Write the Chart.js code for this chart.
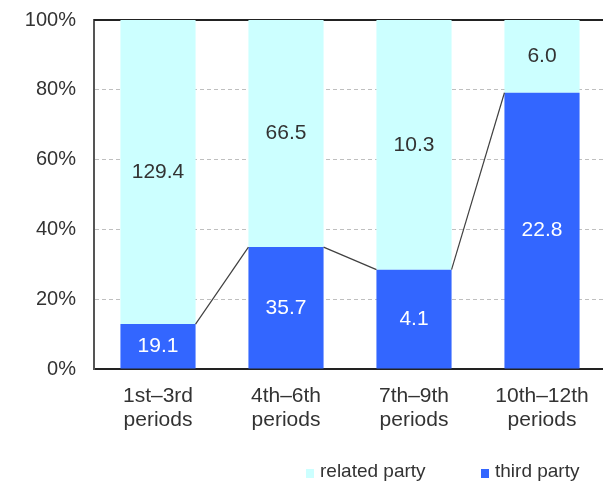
<!DOCTYPE html>
<html>
<head>
<meta charset="utf-8">
<script src="https://cdn.jsdelivr.net/npm/chart.js@4/dist/chart.umd.min.js"></script>
<style>
  html, body { margin: 0; padding: 0; overflow: hidden; background: #fff; width: 603px; height: 483px; }
  #wrap { position: relative; width: 603px; height: 483px; }
  canvas { position: absolute; left: 0; top: 0; }
  .lg { position: absolute; font-family: "Liberation Sans", Arial, sans-serif; font-size: 19px; line-height: 19px; color: #333; white-space: nowrap; }
  .sw { position: absolute; width: 8px; height: 9px; }
</style>
</head>
<body>
<div id="wrap">
  <canvas id="c" width="606" height="483"></canvas>
  <div class="sw" style="left:306px;top:469px;background:#CCFFFF"></div>
  <div class="lg" style="left:320px;top:461px">related party</div>
  <div class="sw" style="left:481px;top:469px;background:#3366FF"></div>
  <div class="lg" style="left:495px;top:461px">third party</div>
</div>
<script>
const categories = [['1st–3rd','periods'], ['4th–6th','periods'], ['7th–9th','periods'], ['10th–12th','periods']];
const thirdParty = [19.1, 35.7, 4.1, 22.8];
const relatedParty = [129.4, 66.5, 10.3, 6.0];
const yTicks = [0, 0.2, 0.4, 0.6, 0.8, 1.0];

const totals = thirdParty.map((v, i) => v + relatedParty[i]);
const thirdShare = thirdParty.map((v, i) => v / totals[i]);
const relatedShare = relatedParty.map((v, i) => v / totals[i]);

const FONT = '"Liberation Sans", Arial, sans-serif';

const extras = {
  id: 'extras',
  beforeDatasetsDraw(chart) {
    const ctx = chart.ctx, a = chart.chartArea;
    ctx.save();
    ctx.strokeStyle = '#222';
    ctx.lineWidth = 2;
    ctx.beginPath();
    ctx.moveTo(a.left, a.top);
    ctx.lineTo(a.right, a.top);
    ctx.stroke();
    ctx.restore();
  },
  afterDatasetsDraw(chart) {
    const ctx = chart.ctx;
    const raws = [thirdParty, relatedParty];
    const m0 = chart.getDatasetMeta(0).data;
    ctx.save();
    ctx.strokeStyle = '#404040';
    ctx.lineWidth = 1.2;
    for (let i = 0; i < m0.length - 1; i++) {
      const a = m0[i], b = m0[i + 1];
      ctx.beginPath();
      ctx.moveTo(a.x + a.width / 2, a.y);
      ctx.lineTo(b.x - b.width / 2, b.y);
      ctx.stroke();
    }
    ctx.restore();
    ctx.save();
    ctx.font = '21px ' + FONT;
    ctx.textAlign = 'center';
    ctx.textBaseline = 'middle';
    [0, 1].forEach(d => {
      chart.getDatasetMeta(d).data.forEach((el, i) => {
        ctx.fillStyle = d === 0 ? '#ffffff' : '#333333';
        ctx.fillText(raws[d][i].toFixed(1), el.x, (el.y + el.base) / 2);
      });
    });
    ctx.restore();
  }
};

new Chart(document.getElementById('c'), {
  type: 'bar',
  data: {
    labels: categories,
    datasets: [
      { label: 'third party', data: thirdShare, backgroundColor: '#3366FF', stack: 's' },
      { label: 'related party', data: relatedShare, backgroundColor: '#CCFFFF', stack: 's' }
    ]
  },
  options: {
    responsive: false,
    animation: false,
    devicePixelRatio: 1,
    layout: { padding: { top: 20, left: 0, right: 0, bottom: 0 }, autoPadding: false },
    plugins: { legend: { display: false }, tooltip: { enabled: false } },
    datasets: { bar: { barPercentage: 0.587, categoryPercentage: 1 } },
    scales: {
      x: {
        stacked: true,
        grid: { display: false, drawTicks: false },
        border: { display: true, color: '#222', width: 2 },
        ticks: { color: '#333', font: { family: FONT, size: 21, lineHeight: 1.15 }, padding: 15, maxRotation: 0, autoSkip: false },
        afterFit(s) { s.height = 114; s.paddingLeft = 0; s.paddingRight = 0; }
      },
      y: {
        stacked: true,
        min: 0, max: 1,
        afterBuildTicks(s) { s.ticks = yTicks.map(v => ({ value: v })); },
        grid: {
          drawTicks: false,
          color: c => (c.tick && (c.tick.value === 0 || c.tick.value === 1)) ? 'rgba(0,0,0,0)' : '#BFBFBF',
          lineWidth: 1
        },
        border: { display: true, color: '#555', width: 2, dash: [4, 3] },
        ticks: { color: '#333', font: { family: FONT, size: 20 }, padding: 18, callback: v => Math.round(v * 100) + '%' },
        afterFit(s) { s.width = 94; s.paddingTop = 0; s.paddingBottom = 0; }
      }
    }
  },
  plugins: [extras]
});
</script>
</body>
</html>
